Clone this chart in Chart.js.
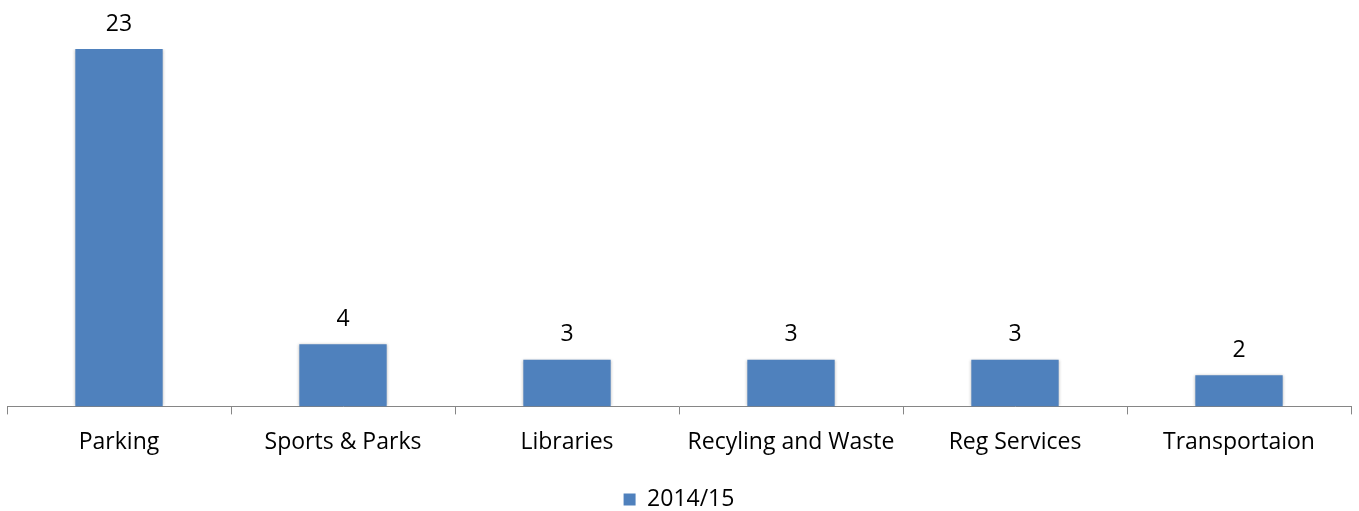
<!DOCTYPE html>
<html>
<head>
<meta charset="utf-8">
<script src="https://cdn.jsdelivr.net/npm/chart.js@4/dist/chart.umd.min.js"></script>
<style>
  html, body { margin: 0; padding: 0; background: #fff; }
  #wrap { width: 1359px; height: 511px; }
</style>
</head>
<body>
<div id="wrap"><canvas id="chart" width="1359" height="511"></canvas></div>
<script>
// Complaints by service area
const categories = ['Parking', 'Sports & Parks', 'Libraries', 'Recyling and Waste', 'Reg Services', 'Transportaion'];
const seriesName = '2014/15';
const values = [23, 4, 3, 3, 3, 2];

const FONT = '"Open Sans", "Noto Sans", sans-serif';
const FONT_SIZE = 23;

// soft edge around the bars
const barShadow = {
  id: 'barShadow',
  beforeDatasetsDraw(chart) {
    const ctx = chart.ctx;
    ctx.save();
    ctx.shadowColor = 'rgba(0,0,0,0.28)';
    ctx.shadowBlur = 3;
    ctx.shadowOffsetX = 0;
    ctx.shadowOffsetY = 0;
  },
  afterDatasetsDraw(chart) {
    chart.ctx.restore();
  }
};

// value labels above each bar
const valueLabels = {
  id: 'valueLabels',
  afterDatasetsDraw(chart) {
    const ctx = chart.ctx;
    const meta = chart.getDatasetMeta(0);
    ctx.save();
    ctx.font = FONT_SIZE + 'px ' + FONT;
    ctx.fillStyle = '#000';
    ctx.textAlign = 'center';
    ctx.textBaseline = 'middle';
    meta.data.forEach((bar, i) => {
      ctx.fillText(String(values[i]), bar.x, bar.y - 25);
    });
    ctx.restore();
  }
};

// trims the legend box so the entry sits closer to the bottom edge
const legendTrim = {
  id: 'legendTrim',
  beforeLayout(chart) {
    const legend = chart.legend;
    if (!legend || legend._trimmed) return;
    const fit = legend.fit;
    legend.fit = function () {
      fit.call(this);
      this.height -= 10;
    };
    legend._trimmed = true;
  }
};

new Chart(document.getElementById('chart'), {
  type: 'bar',
  data: {
    labels: categories,
    datasets: [{
      label: seriesName,
      data: values,
      backgroundColor: '#4F81BD',
      borderWidth: 0,
      categoryPercentage: 1,
      barPercentage: 0.39
    }]
  },
  options: {
    responsive: false,
    animation: false,
    layout: { padding: { top: 49, left: 7, right: 8, bottom: 0 } },
    plugins: {
      tooltip: { enabled: false },
      legend: {
        position: 'bottom',
        labels: {
          boxWidth: 12,
          boxHeight: 12,
          padding: 0,
          color: '#000',
          font: { family: FONT, size: FONT_SIZE }
        }
      }
    },
    scales: {
      x: {
        grid: {
          drawOnChartArea: false,
          drawTicks: true,
          tickLength: 8,
          color: '#868686'
        },
        border: { display: true, color: '#868686', width: 1 },
        ticks: {
          color: '#000',
          padding: 14,
          maxRotation: 0,
          font: { family: FONT, size: FONT_SIZE }
        },
        afterFit(scale) { scale.height += 18; }
      },
      y: {
        display: false,
        min: 0,
        max: 23
      }
    }
  },
  plugins: [barShadow, valueLabels, legendTrim]
});
</script>
</body>
</html>
